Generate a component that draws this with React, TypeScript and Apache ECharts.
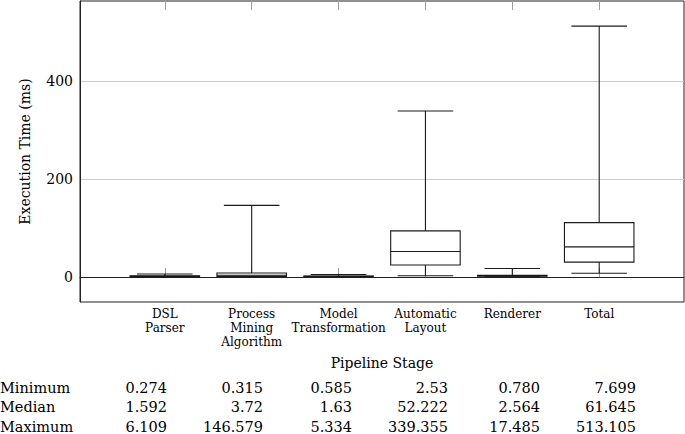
import React, { useEffect, useRef } from "react";
import * as echarts from "echarts";

// ---- data ----
const categories = [
  "DSL\nParser",
  "Process\nMining\nAlgorithm",
  "Model\nTransformation",
  "Automatic\nLayout",
  "Renderer",
  "Total",
];
const minValues = [0.274, 0.315, 0.585, 2.53, 0.78, 7.699];
const q1Values = [0.9, 1.4, 1.0, 24.5, 1.6, 30.6];
const medianValues = [1.592, 3.72, 1.63, 52.222, 2.564, 61.645];
const q3Values = [2.4, 8.2, 2.3, 94.5, 3.6, 111.2];
const maxValues = [6.109, 146.579, 5.334, 339.355, 17.485, 513.105];

const tableRowLabels = ["Minimum", "Median", "Maximum"];
const tableMinLabels = ["0.274", "0.315", "0.585", "2.53", "0.780", "7.699"];
const tableMedianLabels = ["1.592", "3.72", "1.63", "52.222", "2.564", "61.645"];
const tableMaxLabels = ["6.109", "146.579", "5.334", "339.355", "17.485", "513.105"];

const yAxisTitle = "Execution Time (ms)";
const xAxisTitle = "Pipeline Stage";

// ---- layout ----
const FONT = "DejaVu Serif";
const tableColumnRight = [167, 263, 352, 448, 540, 636];
const tableRowY = [387.5, 407, 426.5];
const positions = categories.map((_, i) => i + 1);

export default function App() {
  const ref = useRef<HTMLDivElement>(null);
  useEffect(() => {
    if (!ref.current) return;
    const chart = echarts.init(ref.current, undefined, { renderer: "svg" });

    const tableRows = [tableMinLabels, tableMedianLabels, tableMaxLabels];
    const graphics: any[] = [];
    tableRowLabels.forEach((lab, r) => {
      graphics.push({
        type: "text",
        x: 0,
        y: tableRowY[r],
        style: { text: lab, fill: "#000", font: `14.5px "${FONT}"`, align: "left", verticalAlign: "middle" },
      });
      tableRows[r].forEach((v, c) => {
        graphics.push({
          type: "text",
          x: tableColumnRight[c],
          y: tableRowY[r],
          style: { text: v, fill: "#000", font: `14.5px "${FONT}"`, align: "right", verticalAlign: "middle" },
        });
      });
    });

    const boxData = positions.map((p, i) => [p, minValues[i], q1Values[i], medianValues[i], q3Values[i], maxValues[i]]);

    const option: any = {
      animation: false,
      backgroundColor: "#fff",
      grid: {
        left: 80,
        right: 1,
        top: 1,
        bottom: 132,
        show: true,
        borderColor: "#222",
        borderWidth: 1,
        backgroundColor: "transparent",
        outerBoundsMode: "none",
        containLabel: false,
      },
      xAxis: [
        {
          type: "value",
          position: "bottom",
          min: 0.024,
          max: 6.976,
          name: xAxisTitle,
          nameLocation: "middle",
          nameGap: 54,
          nameTextStyle: { fontFamily: FONT, fontSize: 14, color: "#000" },
          axisLine: { show: true, lineStyle: { color: "#222", width: 1 } },
          axisTick: { show: true, inside: true, length: 9, customValues: positions, lineStyle: { color: "#a0a0a0" } },
          axisLabel: {
            show: true,
            customValues: positions,
            margin: 5,
            fontFamily: FONT,
            fontSize: 12,
            lineHeight: 14,
            color: "#000",
            align: "center",
            formatter: (v: number) => {
              const idx = Math.round(v) - 1;
              return categories[idx] ?? "";
            },
          },
          splitLine: { show: false },
        },
        {
          type: "value",
          position: "top",
          min: 0.024,
          max: 6.976,
          axisLine: { show: false },
          axisTick: { show: true, inside: true, length: 9, customValues: positions, lineStyle: { color: "#a0a0a0" } },
          axisLabel: { show: false },
          splitLine: { show: false },
        },
      ],
      yAxis: {
        type: "value",
        min: -51.01,
        max: 564.39,
        splitNumber: 3,
        minInterval: 200,
        maxInterval: 200,
        name: yAxisTitle,
        nameLocation: "middle",
        nameGap: 48,
        nameTextStyle: { fontFamily: FONT, fontSize: 14, color: "#000" },
        axisLine: { show: true, lineStyle: { color: "#222", width: 1 } },
        axisTick: { show: false },
        axisLabel: {
          fontFamily: FONT,
          fontSize: 14,
          color: "#000",
          margin: 7,
          showMinLabel: false,
          showMaxLabel: false,
        },
        splitLine: { show: true, showMinLine: false, showMaxLine: false, lineStyle: { color: "#cccccc", width: 1 } },
      },
      series: [
        {
          type: "custom",
          xAxisIndex: 0,
          data: boxData,
          encode: { x: 0, y: [1, 2, 3, 4, 5] },
          renderItem: (params: any, api: any) => {
            const x = api.value(0);
            const pMin = api.coord([x, api.value(1)]);
            const pQ1 = api.coord([x, api.value(2)]);
            const pMed = api.coord([x, api.value(3)]);
            const pQ3 = api.coord([x, api.value(4)]);
            const pMax = api.coord([x, api.value(5)]);
            const boxW = api.size([0.8, 0])[0];
            const capW = api.size([0.64, 0])[0];
            const cx = pMin[0];
            const st = { stroke: "#1a1a1a", lineWidth: 1.1, fill: "none" };
            return {
              type: "group",
              children: [
                { type: "line", shape: { x1: cx, y1: pQ3[1], x2: cx, y2: pMax[1] }, style: st },
                { type: "line", shape: { x1: cx - capW / 2, y1: pMax[1], x2: cx + capW / 2, y2: pMax[1] }, style: st },
                { type: "line", shape: { x1: cx, y1: pQ1[1], x2: cx, y2: pMin[1] }, style: st },
                { type: "line", shape: { x1: cx - capW / 2, y1: pMin[1], x2: cx + capW / 2, y2: pMin[1] }, style: st },
                {
                  type: "rect",
                  shape: { x: cx - boxW / 2, y: pQ3[1], width: boxW, height: pQ1[1] - pQ3[1] },
                  style: { stroke: "#1a1a1a", lineWidth: 1.1, fill: "#fff" },
                },
                { type: "line", shape: { x1: cx - boxW / 2, y1: pMed[1], x2: cx + boxW / 2, y2: pMed[1] }, style: st },
              ],
            };
          },
        },
      ],
      graphic: graphics,
    };
    chart.setOption(option);
    return () => chart.dispose();
  }, []);
  return (
    <div
      ref={ref}
      style={{ position: "absolute", left: 0, top: 0, width: 685, height: 434, background: "#fff" }}
    />
  );
}
